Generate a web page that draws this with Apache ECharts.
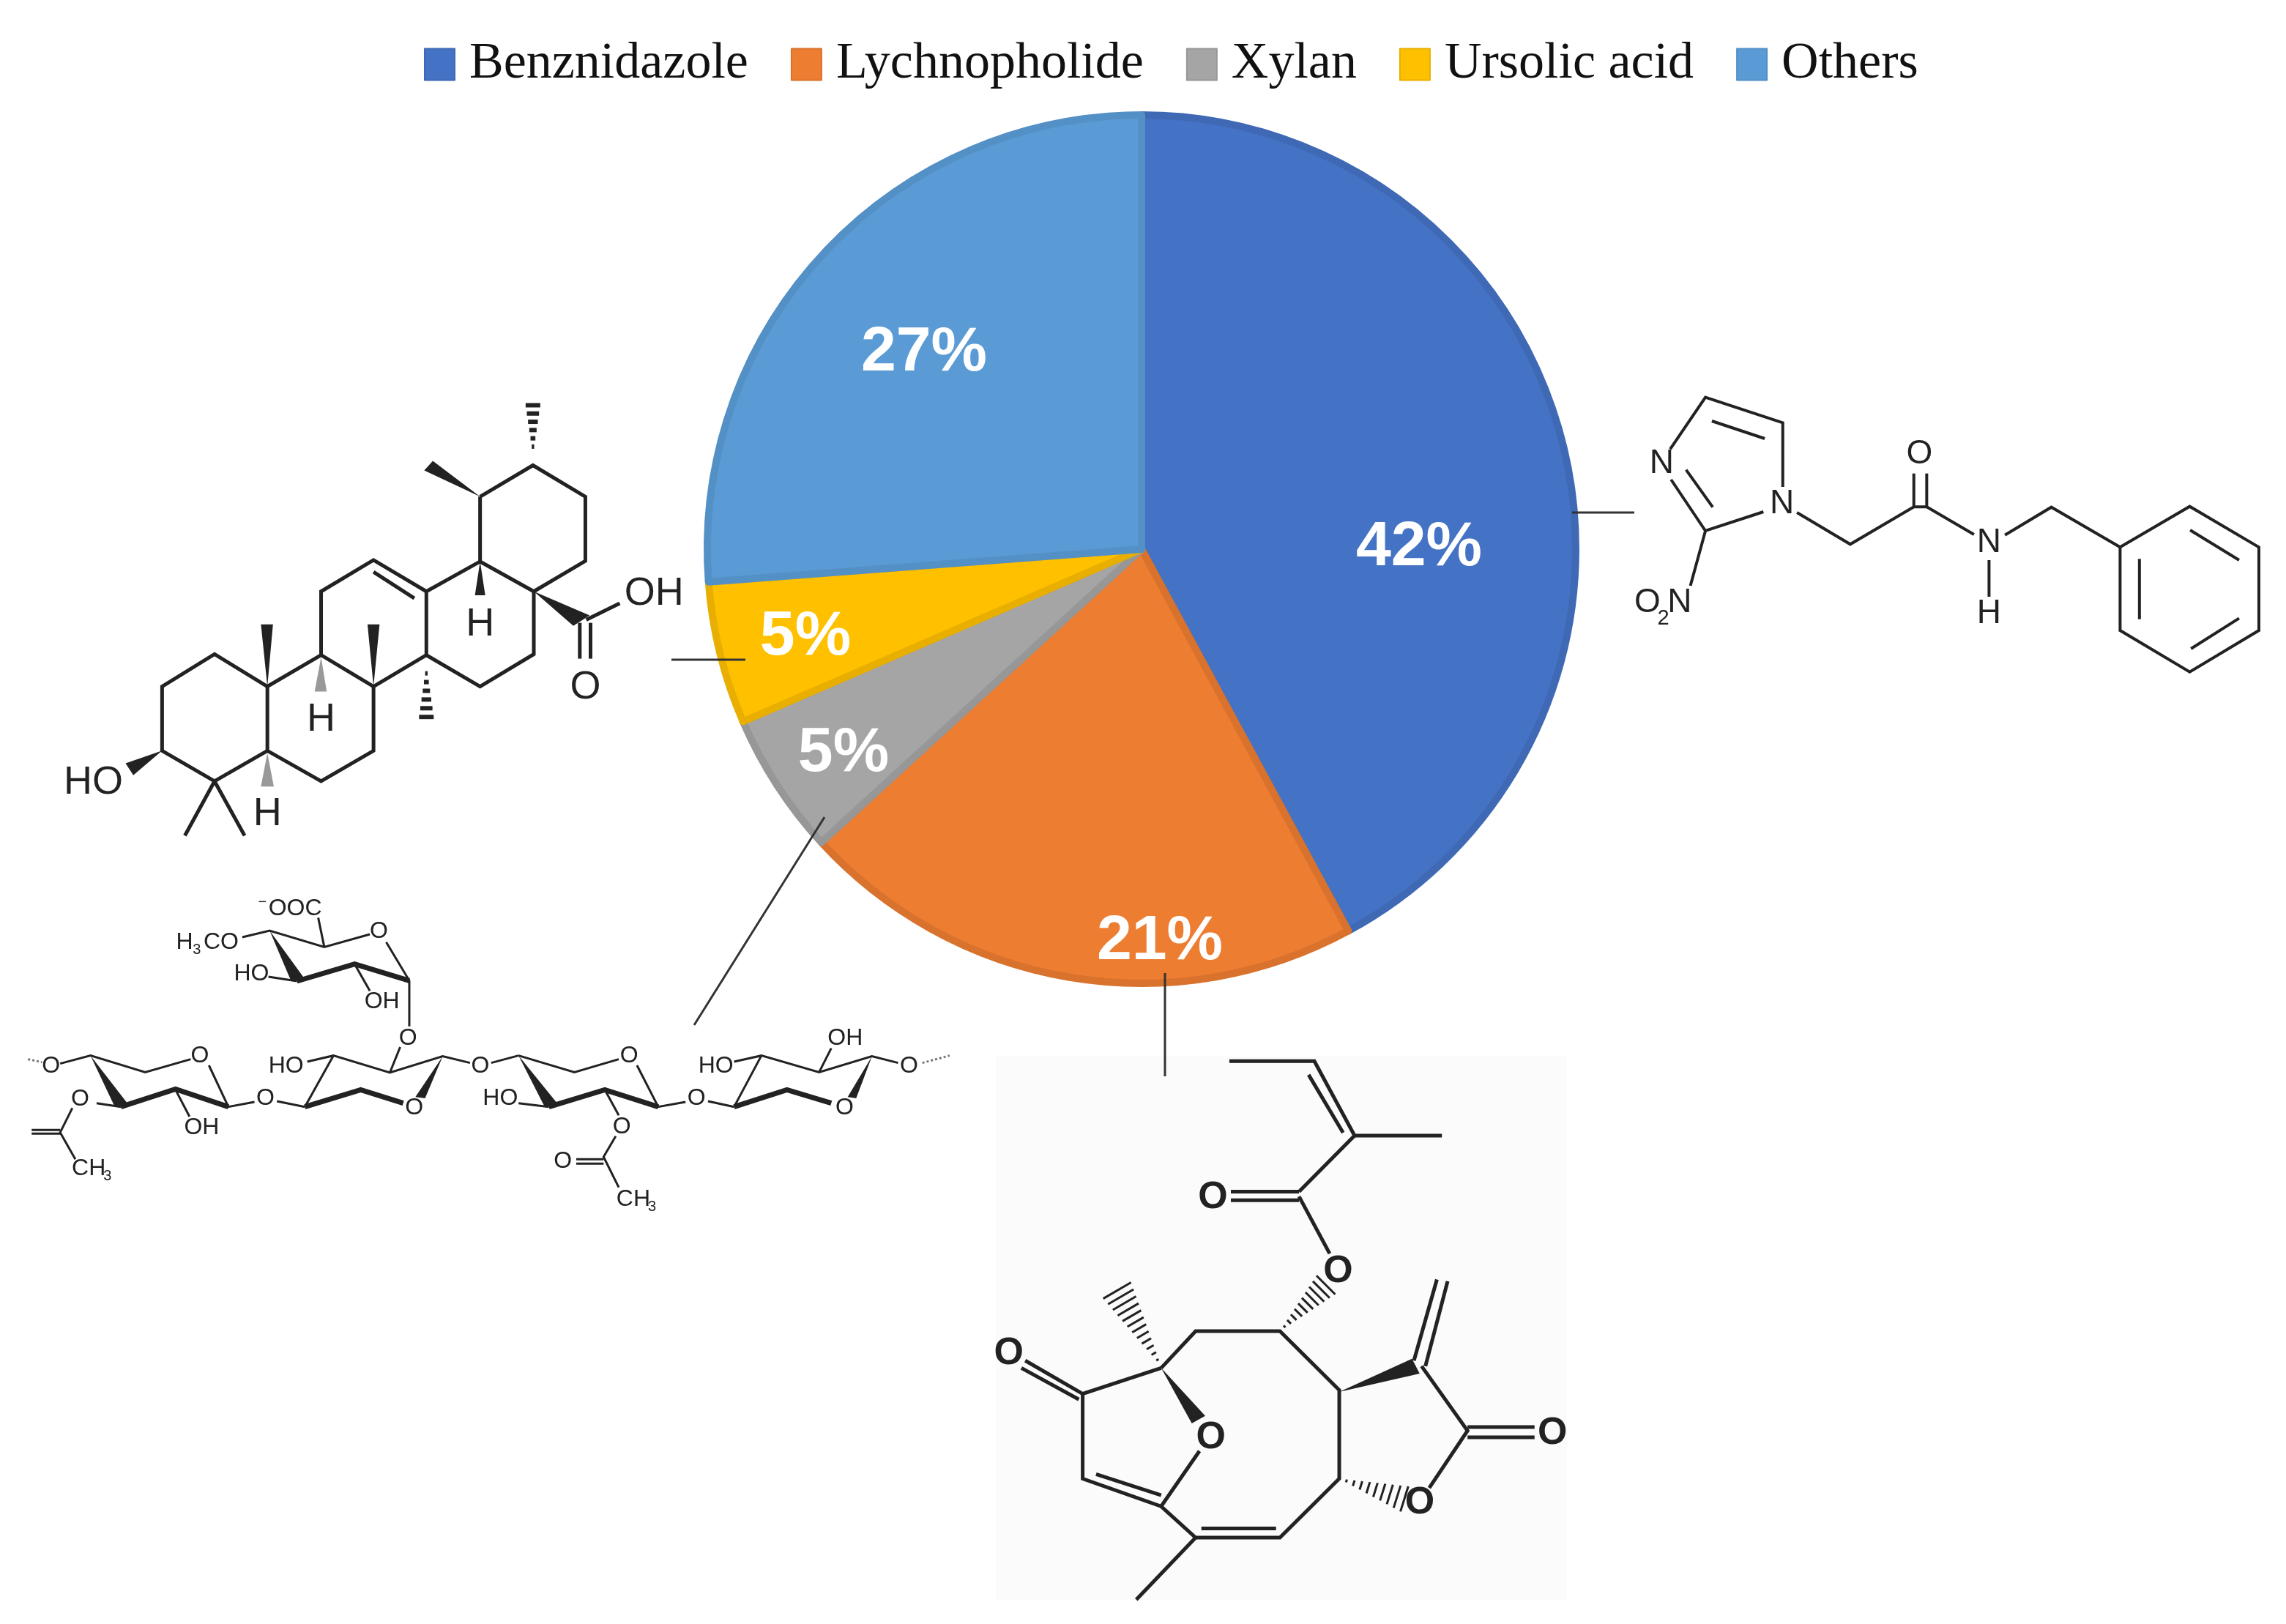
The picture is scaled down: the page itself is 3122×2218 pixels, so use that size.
<!DOCTYPE html>
<html>
<head>
<meta charset="utf-8">
<title>Compounds</title>
<script src="https://cdn.jsdelivr.net/npm/echarts@6/dist/echarts.min.js"></script>
<style>
  html, body { margin: 0; padding: 0; background: #fff; }
  #chart { width: 3122px; height: 2218px; }
</style>
</head>
<body>
<div id="chart"></div>
<script>
// chart data
const categories = ["Benznidazole", "Lychnopholide", "Xylan", "Ursolic acid", "Others"];
const shareValues = [42.1, 21.1, 5.3, 5.3, 26.2];
const shareLabels = ["42%", "21%", "5%", "5%", "27%"];

const sliceColors = ["#4472C4", "#ED7D31", "#A5A5A5", "#FFC000", "#5B9BD5"];
const sliceBorders = ["#3F69B5", "#D9722D", "#979797", "#E8AF00", "#5390C6"];
const labelCenters = [[1938, 748], [1584, 1286], [1100, 870], [1152, 1029], [1262, 482]];

// thin leader lines from the slices to the structures
const leaderLines = [
  [2147, 700, 2232, 700],
  [1591, 1329, 1591, 1470],
  [917, 901, 1018, 901],
  [948, 1400, 1126, 1116]
];

// structures: coordinates are in a local drawing space, each has its own origin and scale
const benznidazole = {
  ox: 2200, oy: 500, sx: 1.704, sy: 3, font: 46, stroke: 4, hashWidth: 4,
  bonds: [
    [400, 495, 400, 232, 220, 128, 138, 340],
    [140, 465, 220, 675, 355, 597],
    [175, 425, 237, 578], [235, 225, 358, 297],
    [220, 675, 185, 900],
    [433, 600, 557, 730, 705, 577, 735, 577, 845, 690],
    [705, 577, 705, 440], [735, 577, 735, 440],
    [880, 795, 880, 945],
    [917, 692, 1025, 578, 1185, 742],
    [1185, 742, 1347, 575, 1508, 742, 1508, 1083, 1347, 1253, 1185, 1083, 1185, 742],
    [1230, 790, 1230, 1037], [1348, 672, 1462, 795], [1350, 1158, 1462, 1033]
  ],
  labels: [["N", 118, 400], ["N", 398, 565], ["O", 718, 360], ["N", 880, 725], ["H", 880, 1015], ["O", 85, 970], ["N", 160, 970]],
  small: [["2", 122, 1035]]
};

const ursolicAcid = {
  ox: 60, oy: 520, sx: 1.704, sy: 2.45, font: 54, stroke: 5, hashWidth: 6,
  bonds: [
    [1015, 388, 1138, 283, 1260, 388, 1260, 603, 1140, 705, 1015, 605, 1015, 388],
    [1015, 605, 890, 705, 890, 918, 1015, 1023, 1140, 915, 1140, 705],
    [890, 705, 767, 600, 645, 705, 645, 918, 767, 1023, 890, 918],
    [767, 640, 862, 728],
    [645, 918, 520, 1023, 520, 1238, 645, 1340, 767, 1238, 767, 1023],
    [520, 1023, 397, 915, 275, 1023, 275, 1238, 397, 1340, 520, 1238],
    [397, 1340, 328, 1522], [397, 1340, 467, 1522],
    [1262, 800, 1340, 745],
    [1247, 810, 1247, 930], [1272, 810, 1272, 930]
  ],
  wedges: [
    [1015, 388, 885, 300, 905, 268],
    [1015, 605, 1003, 718, 1027, 718],
    [1140, 705, 1232, 820, 1270, 785],
    [520, 1023, 505, 815, 533, 815],
    [767, 1023, 753, 815, 781, 815],
    [275, 1238, 190, 1280, 208, 1320]
  ],
  greyWedges: [
    [645, 925, 630, 1040, 658, 1040],
    [520, 1245, 505, 1358, 535, 1358]
  ],
  hashes: [[1138, 248, 1138, 82, 10, 6], [890, 950, 890, 1125, 10, 6]],
  labels: [["OH", 1420, 712], ["O", 1260, 1028], ["H", 1015, 815], ["H", 645, 1135], ["H", 520, 1450], ["HO", 115, 1345]]
};

const xylan = {
  ox: 20, oy: 1200, sx: 1.206, sy: 3, font: 32, stroke: 3, hashWidth: 3,
  bonds: [
    [375, 240, 420, 213, 510, 280, 585, 228], [500, 160, 510, 280], [612, 260, 650, 418, 650, 605],
    [418, 402, 465, 420], [560, 350, 585, 460], [635, 690, 618, 795],
    [75, 758, 125, 725, 215, 793, 290, 740], [320, 765, 352, 935, 395, 915],
    [135, 920, 175, 935], [95, 940, 75, 1040, 100, 1150], [28, 1030, 75, 1030], [28, 1045, 75, 1045],
    [265, 865, 288, 975], [432, 912, 478, 935],
    [482, 750, 525, 725, 618, 795, 705, 728, 750, 755], [525, 725, 478, 935], [785, 755, 830, 725],
    [830, 725, 922, 793, 995, 740], [1025, 765, 1060, 935, 1105, 915],
    [830, 920, 880, 935], [972, 865, 995, 970], [990, 1055, 970, 1140, 995, 1265],
    [925, 1150, 970, 1150], [925, 1168, 970, 1168], [1142, 912, 1185, 935],
    [1185, 750, 1230, 725, 1325, 793, 1412, 728, 1455, 755], [1230, 725, 1185, 935], [1325, 793, 1345, 695]
  ],
  thick: [
    [465, 420, 560, 350, 650, 418],
    [175, 935, 265, 862, 352, 935],
    [478, 935, 570, 865, 640, 920],
    [880, 935, 972, 865, 1060, 935],
    [1185, 935, 1272, 865, 1345, 920]
  ],
  wedges: [
    [420, 213, 455, 418, 478, 412],
    [125, 725, 165, 935, 187, 925],
    [705, 728, 660, 895, 676, 900],
    [830, 725, 873, 935, 895, 925],
    [1412, 728, 1372, 895, 1386, 900]
  ],
  dashes: [[22, 740, 45, 752], [1495, 755, 1540, 725]],
  labels: [
    ["OOC", 462, 125], ["CO", 340, 262], ["H", 280, 262], ["O", 600, 218], ["HO", 390, 392], ["OH", 605, 505], ["O", 648, 655],
    ["O", 60, 770], ["O", 305, 727], ["O", 108, 905], ["OH", 308, 1020], ["O", 413, 900], ["C", 108, 1190], ["H", 136, 1190],
    ["HO", 447, 768], ["O", 658, 940], ["O", 767, 770], ["O", 1012, 727], ["HO", 800, 900], ["O", 1000, 1018],
    ["O", 903, 1160], ["C", 1005, 1315], ["H", 1033, 1315], ["O", 1123, 900],
    ["HO", 1155, 768], ["OH", 1368, 655], ["O", 1367, 940], ["O", 1473, 770]
  ],
  small: [["3", 300, 292], ["3", 153, 1220], ["3", 1050, 1345], ["−", 408, 97]]
};

const lychnopholide = {
  ox: 1340, oy: 1420, sx: 1.912, sy: 1.985, font: 52, stroke: 5, hashWidth: 3, weight: "bold",
  bonds: [
    [648, 58, 870, 58, 975, 260, 1203, 260], [855, 95, 945, 252], [975, 260, 830, 412],
    [830, 412, 652, 412], [830, 435, 652, 435], [830, 425, 910, 580],
    [470, 890, 560, 790, 780, 790, 935, 950, 935, 1190, 780, 1350, 560, 1350, 470, 1265],
    [1150, 885, 1270, 1060, 1170, 1215], [1130, 870, 1190, 650], [1160, 885, 1218, 655],
    [1270, 1050, 1445, 1050], [1270, 1078, 1445, 1078],
    [575, 1325, 770, 1325], [560, 1350, 405, 1518],
    [570, 1115, 470, 1265, 265, 1190, 265, 960, 470, 890], [300, 1178, 470, 1235],
    [265, 960, 115, 870], [255, 975, 105, 890]
  ],
  wedges: [
    [935, 955, 1125, 865, 1145, 905],
    [470, 890, 585, 1020, 550, 1040]
  ],
  hashes: [[780, 790, 900, 665, 18, 10], [935, 1190, 1105, 1245, 18, 9], [470, 885, 355, 680, 22, 12]],
  labels: [["O", 605, 428], ["O", 932, 628], ["O", 1492, 1068], ["O", 1145, 1255], ["O", 600, 1080], ["O", 72, 850]]
};

const structures = [benznidazole, ursolicAcid, xylan, lychnopholide];

const STRUCTURE_FONT = '"Liberation Sans", Arial, sans-serif';
const BOND_COLOR = "#222";

function pxPoints(mol, flat) {
  const pts = [];
  for (let i = 0; i < flat.length; i += 2) {
    pts.push([mol.ox + flat[i] / mol.sx, mol.oy + flat[i + 1] / mol.sy]);
  }
  return pts;
}

function polyline(points, width, color, dash) {
  return {
    type: "polyline",
    silent: true,
    z: 10,
    shape: { points: points },
    style: { fill: null, stroke: color || BOND_COLOR, lineWidth: width, lineDash: dash, lineJoin: "miter" }
  };
}

function hashElements(mol, item) {
  const [a, b] = pxPoints(mol, item.slice(0, 4));
  const halfWidth = item[4];
  const count = item[5];
  const dx = b[0] - a[0];
  const dy = b[1] - a[1];
  const len = Math.hypot(dx, dy);
  const nx = -dy / len;
  const ny = dx / len;
  const out = [];
  for (let i = 1; i <= count; i++) {
    const t = i / count;
    const cx = a[0] + dx * t;
    const cy = a[1] + dy * t;
    const w = halfWidth * t;
    out.push(polyline([[cx - nx * w, cy - ny * w], [cx + nx * w, cy + ny * w]], mol.hashWidth));
  }
  return out;
}

function structureElements(mol) {
  const out = [];
  (mol.bonds || []).forEach((b) => out.push(polyline(pxPoints(mol, b), mol.stroke)));
  (mol.thick || []).forEach((b) => out.push(polyline(pxPoints(mol, b), 7)));
  (mol.dashes || []).forEach((b) => out.push(polyline(pxPoints(mol, b), mol.stroke, "#777", [3, 3])));
  (mol.wedges || []).forEach((w) => {
    out.push({ type: "polygon", silent: true, z: 10, shape: { points: pxPoints(mol, w) }, style: { fill: BOND_COLOR } });
  });
  (mol.greyWedges || []).forEach((w) => {
    out.push({ type: "polygon", silent: true, z: 10, shape: { points: pxPoints(mol, w) }, style: { fill: "#999" } });
  });
  (mol.hashes || []).forEach((h) => out.push(...hashElements(mol, h)));
  const addText = (t, size) => {
    const [p] = pxPoints(mol, [t[1], t[2]]);
    out.push({
      type: "text",
      silent: true,
      z: 10,
      style: {
        text: t[0], x: p[0], y: p[1], align: "center", verticalAlign: "middle",
        fontFamily: STRUCTURE_FONT, fontSize: size, fontWeight: mol.weight || "normal", fill: BOND_COLOR
      }
    });
  };
  (mol.labels || []).forEach((t) => addText(t, mol.font));
  (mol.small || []).forEach((t) => addText(t, Math.round(mol.font * 0.62)));
  return out;
}

const graphicElements = [
  // faint backdrop of the lychnopholide picture
  { type: "rect", silent: true, z: -1, shape: { x: 1360, y: 1443, width: 780, height: 743 }, style: { fill: "#FBFBFB" } }
];
structures.forEach((mol) => graphicElements.push(...structureElements(mol)));
leaderLines.forEach((l) => {
  graphicElements.push(polyline([[l[0], l[1]], [l[2], l[3]]], 3, "#333"));
});

const myChart = echarts.init(document.getElementById("chart"), null, { renderer: "canvas" });

const options = {
  animation: false,
  backgroundColor: "#fff",
  legend: {
    data: categories,
    left: 574,
    top: 48,
    icon: "rect",
    itemWidth: 41,
    itemHeight: 43,
    itemGap: 58,
    selectedMode: false,
    textStyle: {
      fontFamily: '"Liberation Serif", serif',
      fontSize: 70,
      color: "#111",
      padding: [0, 0, 0, 15]
    }
  },
  graphic: { elements: graphicElements },
  series: [
    {
      type: "pie",
      center: [1559, 750],
      radius: [0, 593],
      startAngle: 90,
      clockwise: true,
      avoidLabelOverlap: false,
      silent: true,
      itemStyle: { borderWidth: 10 },
      data: categories.map((name, i) => ({
        name: name,
        value: shareValues[i],
        itemStyle: { color: sliceColors[i], borderColor: sliceBorders[i] }
      })),
      label: {
        show: true,
        position: "inside",
        formatter: (params) => shareLabels[params.dataIndex],
        color: "#fff",
        fontFamily: '"Liberation Sans", Arial, sans-serif',
        fontWeight: "bold",
        fontSize: 86
      },
      labelLine: { show: false },
      labelLayout: (params) => ({
        x: labelCenters[params.dataIndex][0],
        y: labelCenters[params.dataIndex][1],
        align: "center",
        verticalAlign: "middle"
      })
    }
  ]
};

myChart.setOption(options);

window.addEventListener("resize", () => {
  myChart.resize();
});
</script>
</body>
</html>
